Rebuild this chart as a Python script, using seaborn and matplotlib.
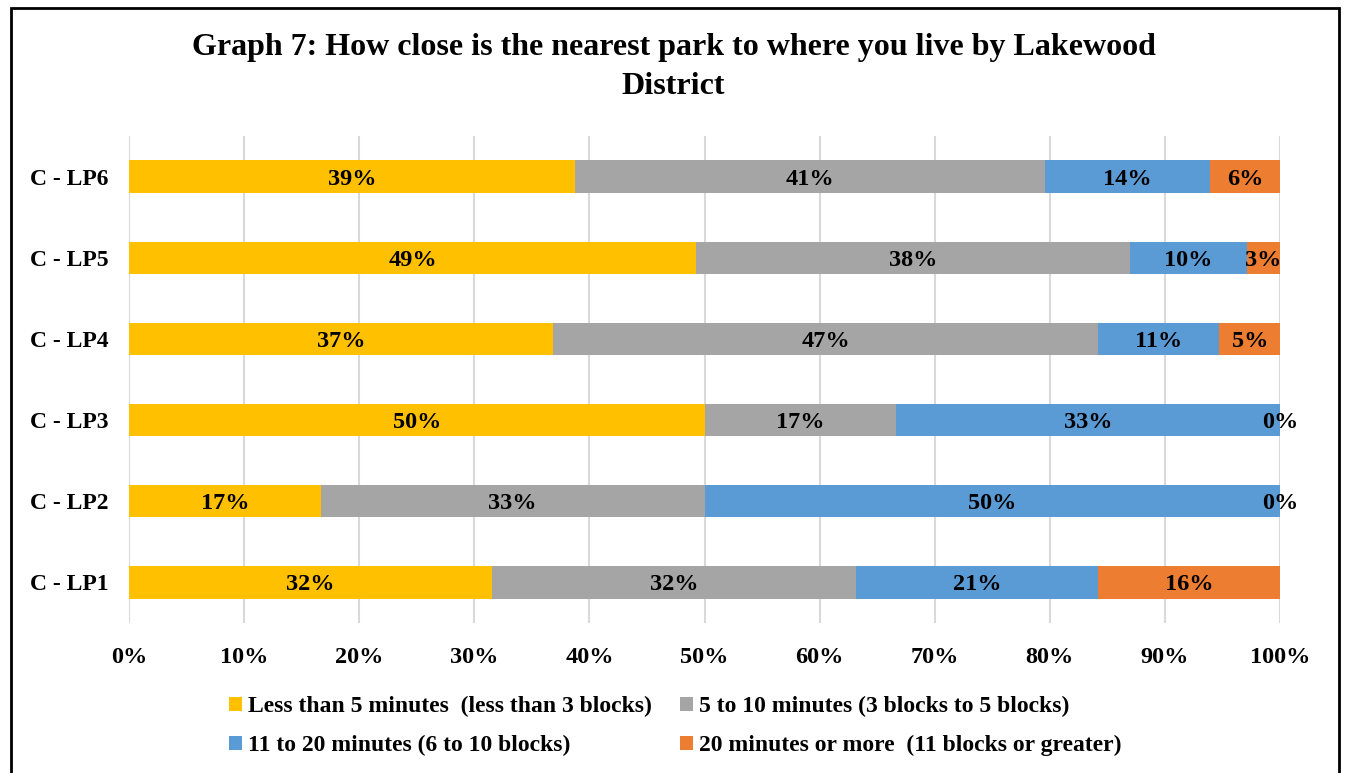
import matplotlib.pyplot as plt
import pandas as pd
import seaborn as sns
from matplotlib.patches import Patch, Rectangle

districts = ["C - LP6", "C - LP5", "C - LP4", "C - LP3", "C - LP2", "C - LP1"]
less_5 = [38.78, 49.28, 36.84, 50.0, 16.67, 31.58]
five_10 = [40.82, 37.68, 47.37, 16.67, 33.33, 31.58]
eleven_20 = [14.29, 10.14, 10.53, 33.33, 50.0, 21.05]
over_20 = [6.12, 2.90, 5.26, 0.0, 0.0, 15.79]

series_names = [
    "Less than 5 minutes  (less than 3 blocks)",
    "5 to 10 minutes (3 blocks to 5 blocks)",
    "11 to 20 minutes (6 to 10 blocks)",
    "20 minutes or more  (11 blocks or greater)",
]
colors = ["#FFC000", "#A5A5A5", "#5B9BD5", "#ED7D31"]

df = pd.DataFrame(
    {"district": districts, series_names[0]: less_5, series_names[1]: five_10,
     series_names[2]: eleven_20, series_names[3]: over_20}
)
cum = df[series_names].cumsum(axis=1)

sns.set_style("white")
plt.rcParams["font.family"] = ["Liberation Serif", "DejaVu Serif"]
plt.rcParams["font.weight"] = "bold"
plt.rcParams["text.color"] = "black"
plt.rcParams["xtick.color"] = "black"
plt.rcParams["ytick.color"] = "black"

fig = plt.figure(figsize=(13.47, 7.73), dpi=100)
ax = fig.add_axes([129 / 1347, 1 - 623 / 773, 1151 / 1347, 487 / 773])

# stacked look: draw cumulative totals from longest to shortest
for name, color in reversed(list(zip(series_names, colors))):
    sns.barplot(x=cum[name], y=df["district"], orient="h", color=color,
                width=0.4, ax=ax, saturation=1, linewidth=0, zorder=3)

for i, row in df.iterrows():
    left = 0
    for name in series_names:
        val = row[name]
        ax.text(left + val / 2, i, f"{val:.0f}%", ha="center", va="center_baseline",
                fontsize=17.5, fontweight="bold", color="black", zorder=5)
        left += val

ax.set_xlim(0, 100)
ax.set_ylim(5.5, -0.5)
ax.set_xticks(range(0, 101, 10))
ax.set_xticklabels([f"{t}%" for t in range(0, 101, 10)])
ax.tick_params(axis="x", labelsize=17.5, pad=17, length=0)
ax.tick_params(axis="y", labelsize=17, pad=15, length=0)
for lbl in ax.get_xticklabels() + ax.get_yticklabels():
    lbl.set_fontweight("bold")
ax.set_xlabel("")
ax.set_ylabel("")
ax.xaxis.grid(True, color="#D9D9D9", linewidth=1.5, zorder=0)
ax.yaxis.grid(False)
ax.set_axisbelow(True)
sns.despine(ax=ax, left=True, bottom=True)

fig.text(0.5, 1 - 48 / 773, "Graph 7: How close is the nearest park to where you live by Lakewood",
         ha="center", va="center", fontsize=23, fontweight="bold")
fig.text(0.5, 1 - 86 / 773, "District", ha="center", va="center", fontsize=23, fontweight="bold")

handles = [Patch(facecolor=c, edgecolor="none") for c in colors]
order = [0, 2, 1, 3]
fig.legend([handles[k] for k in order], [series_names[k] for k in order],
           loc="upper left", bbox_to_anchor=(208 / 1347, 1 - 675 / 773), ncol=2,
           frameon=False, prop={"family": "Liberation Serif", "weight": "bold", "size": 17},
           handlelength=0.55, handleheight=0.55, handletextpad=0.25,
           columnspacing=1.2, labelspacing=0.75)

fig.patches.append(Rectangle((11 / 1347, -0.05), 1328 / 1347, 1.05 - 8 / 773,
                             transform=fig.transFigure, fill=False,
                             edgecolor="black", linewidth=2))

fig.savefig("out.png", dpi=100)
plt.close(fig)
